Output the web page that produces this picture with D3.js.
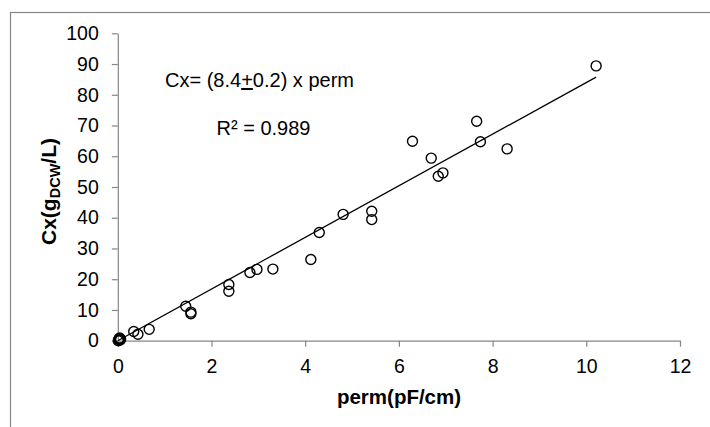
<!DOCTYPE html>
<html>
<head>
<meta charset="utf-8">
<script src="https://cdn.jsdelivr.net/npm/d3@7/dist/d3.min.js"></script>
<style>
  html, body { margin: 0; padding: 0; background: #fff; }
  svg { display: block; font-family: "Liberation Sans", Arial, sans-serif; }
</style>
</head>
<body>
<svg id="chart" width="710" height="427"></svg>
<script>
// Permittivity (pF/cm) vs. biomass concentration Cx (g DCW / L)
const perm = [
  10.21, 7.66, 6.29, 7.74, 8.31, 6.69, 6.84, 6.94, 5.42, 5.42,
  4.81, 4.30, 4.12, 3.31, 2.97, 2.82, 2.37, 2.37, 1.45, 1.56,
  1.56, 0.34, 0.43, 0.67,
  0.02, 0.03, 0.05, 0.01, 0.04, 0.06
];
const cx = [
  89.4, 71.4, 64.9, 64.7, 62.4, 59.4, 53.5, 54.6, 42.1, 39.4,
  41.1, 35.2, 26.4, 23.3, 23.2, 22.2, 18.3, 16.1, 11.2, 9.3,
  8.75, 3.0, 2.1, 3.7,
  0.3, 0.6, 0.2, 0.0, 0.9, 0.5
];

// Linear fit through the origin: Cx = slope x perm
const slope = 8.4;
const slopeErr = 0.2;
const r2 = 0.989;

const xTicks = [0, 2, 4, 6, 8, 10, 12];
const yTicks = [0, 10, 20, 30, 40, 50, 60, 70, 80, 90, 100];

const svg = d3.select("#chart");
const axisColor = "#868686";

// outer chart frame
svg.append("rect")
  .attr("x", 10.5).attr("y", 12.5)
  .attr("width", 720).attr("height", 440)
  .attr("fill", "none")
  .attr("stroke", axisColor)
  .attr("stroke-width", 1.2);

const x = d3.scaleLinear().domain([0, 12]).range([117.8, 680.0]);
const y = d3.scaleLinear().domain([0, 100]).range([340.7, 33.3]);

// axes
const gx = svg.append("g")
  .attr("transform", `translate(0,${y(0)})`)
  .call(d3.axisBottom(x).tickValues(xTicks).tickSize(6).tickSizeOuter(0).tickPadding(12));
const gy = svg.append("g")
  .attr("transform", `translate(${x(0)},0)`)
  .call(d3.axisLeft(y).tickValues(yTicks).tickSize(6).tickSizeOuter(0).tickPadding(13));

[gx, gy].forEach(g => {
  g.select(".domain").attr("stroke", axisColor).attr("stroke-width", 1.2);
  g.selectAll(".tick line").attr("stroke", axisColor).attr("stroke-width", 1.2);
  g.selectAll(".tick text")
    .attr("fill", "#000")
    .attr("font-size", 19.5)
    .attr("font-family", "Liberation Sans, Arial, sans-serif");
});

// fitted line from the origin to the largest permittivity
const xMax = d3.max(perm);
svg.append("line")
  .attr("x1", x(0)).attr("y1", y(0))
  .attr("x2", x(xMax)).attr("y2", y(slope * xMax))
  .attr("stroke", "#000")
  .attr("stroke-width", 1.3);

// data markers
svg.append("g")
  .selectAll("circle")
  .data(perm.map((p, i) => [p, cx[i]]))
  .join("circle")
  .attr("cx", d => x(d[0]))
  .attr("cy", d => y(d[1]))
  .attr("r", 5)
  .attr("fill", "none")
  .attr("stroke", "#000")
  .attr("stroke-width", 1.4);

// fit equation
const eq = svg.append("text")
  .attr("x", 165).attr("y", 87)
  .attr("font-size", 20)
  .attr("fill", "#000");
eq.append("tspan").text(`Cx= (${slope}`);
eq.append("tspan").attr("text-decoration", "underline").text("+");
eq.append("tspan").text(`${slopeErr}) x perm`);

svg.append("text")
  .attr("x", 216.5).attr("y", 135)
  .attr("font-size", 20)
  .attr("fill", "#000")
  .text(`R² = ${r2}`);

// axis titles
svg.append("text")
  .attr("x", 399).attr("y", 404)
  .attr("text-anchor", "middle")
  .attr("font-size", 20.5)
  .attr("font-weight", "bold")
  .attr("fill", "#000")
  .text("perm(pF/cm)");

const yt = svg.append("text")
  .attr("transform", "translate(56,191.5) rotate(-90)")
  .attr("text-anchor", "middle")
  .attr("font-size", 21)
  .attr("font-weight", "bold")
  .attr("fill", "#000");
yt.append("tspan").text("Cx(g");
yt.append("tspan").attr("font-size", 14.5).attr("dy", 4).text("DCW");
yt.append("tspan").attr("dy", -4).text("/L)");
</script>
</body>
</html>
